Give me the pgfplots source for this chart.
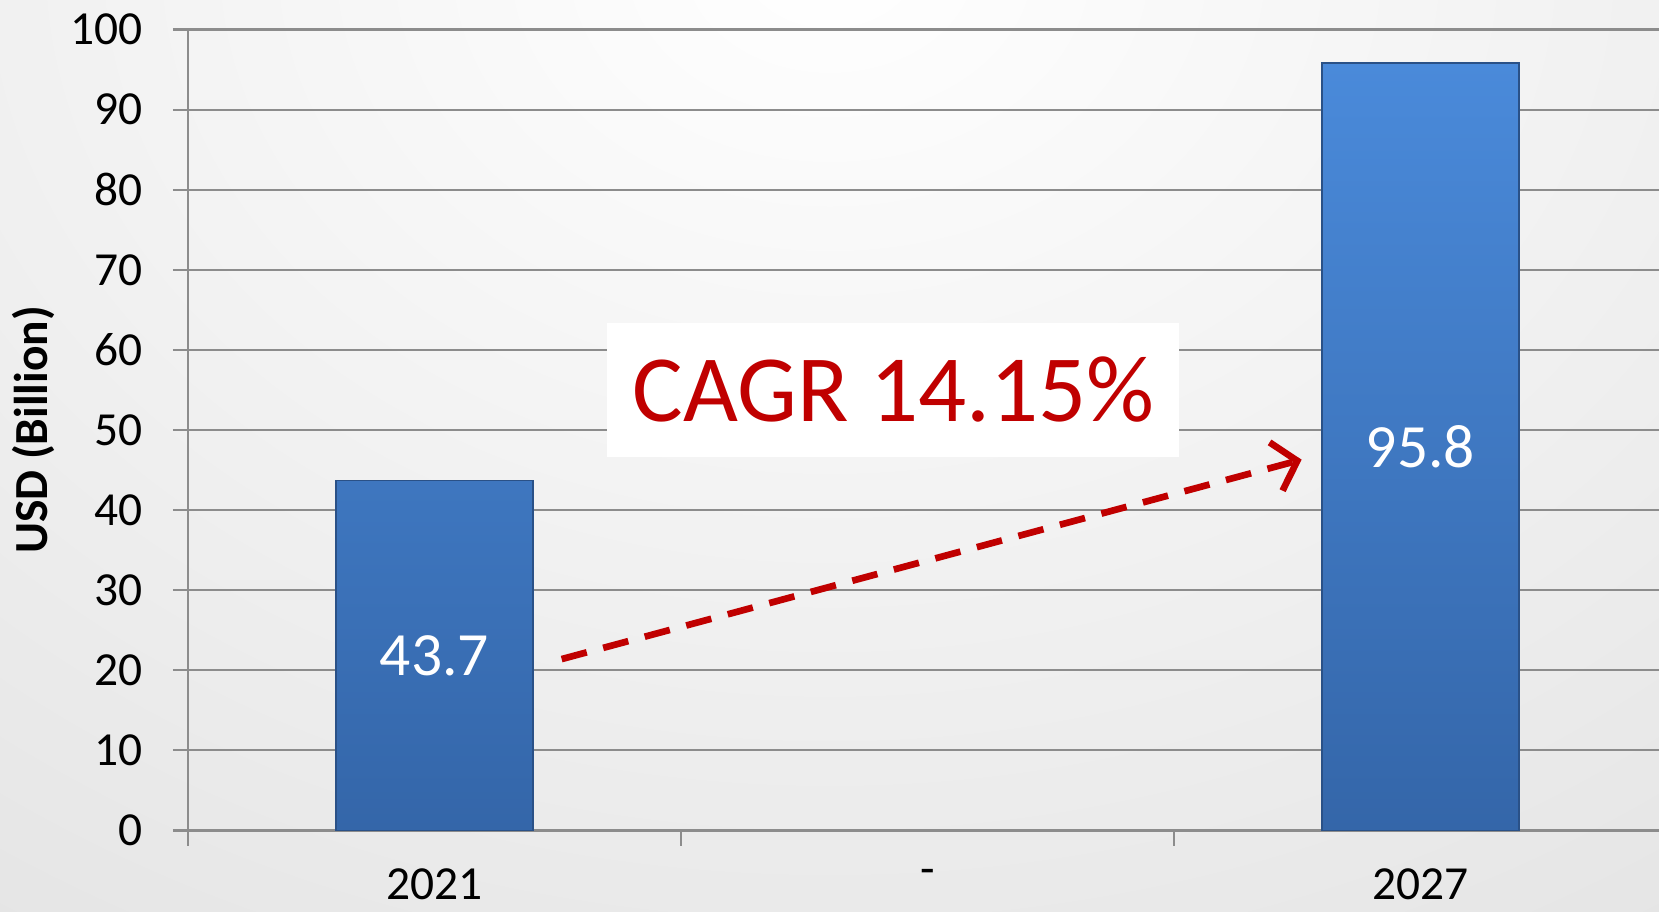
\documentclass[border=0pt]{standalone}
\usepackage{fontspec}
\setmainfont{Carlito}
\usepackage{pgfplots}
\pgfplotsset{compat=1.18}
\usetikzlibrary{arrows.meta}
\definecolor{gridgray}{HTML}{8C8C8C}
\definecolor{bartop}{HTML}{4A8ADA}
\definecolor{barbot}{HTML}{3466A9}
\definecolor{baredge}{HTML}{2A5187}
\definecolor{cagr}{HTML}{C00000}
\begin{document}
\begin{tikzpicture}[x=1cm,y=1cm]
\useasboundingbox (0,0) rectangle (16.59,9.11);
\clip (0,0) rectangle (16.59,9.11);
\shade[inner color=white, outer color=black!11] (-8,-3) rectangle (24.59,22);
\begin{axis}[
  at={(1.88cm,0.805cm)}, anchor=south west,
  scale only axis, width=14.71cm, height=8.01cm,
  xmin=-0.5, xmax=2.484, ymin=0, ymax=100,
  axis lines*=left,
  axis line style={draw=gridgray, line width=0.7pt},
  ytick={0,10,...,100},
  ymajorgrids, grid style={draw=gridgray, line width=0.6pt},
  tick style={draw=gridgray, line width=0.6pt},
  tick align=outside, major tick length=0.15cm,
  xtick={-0.5,0.5,1.5}, xticklabels={},
  extra x ticks={0,1,2}, extra x tick labels={2021,-,2027},
  extra x tick style={major tick length=0pt, grid=none},
  ticklabel style={font=\fontsize{13.5}{16}\selectfont, text=black},
  yticklabel style={xshift=-1.8mm},
  xticklabel style={yshift=-2.6mm},
  /pgf/number format/assume math mode=true,
  ylabel={USD (Billion)},
  ylabel style={font=\fontsize{13.5}{16}\selectfont\bfseries, at={(axis description cs:-0.1047,0.5)}, anchor=center},
]
\addplot[ybar, bar width=0.4, draw=baredge, line width=0.5pt, top color=bartop, bottom color=barbot] coordinates {(0,43.7) (2,95.8)};
\node[text=white, font=\fontsize{17.5}{20}\selectfont] at (axis cs:0,21.85) {43.7};
\node[text=white, font=\fontsize{17.5}{20}\selectfont] at (axis cs:2,47.9) {95.8};
\draw[cagr, line width=1.9pt, dash pattern=on 2.6mm off 1.7mm, -{Straight Barb[length=2.2mm, width=5mm]}] (axis cs:0.258,21.4) -- (axis cs:1.759,46.3);
\node[fill=white, text=cagr, font=\fontsize{27}{32}\selectfont, minimum width=5.72cm, minimum height=1.34cm, inner sep=0pt] at (axis cs:0.931,55.0) {CAGR 14.15\%};
\end{axis}
\end{tikzpicture}
\end{document}
